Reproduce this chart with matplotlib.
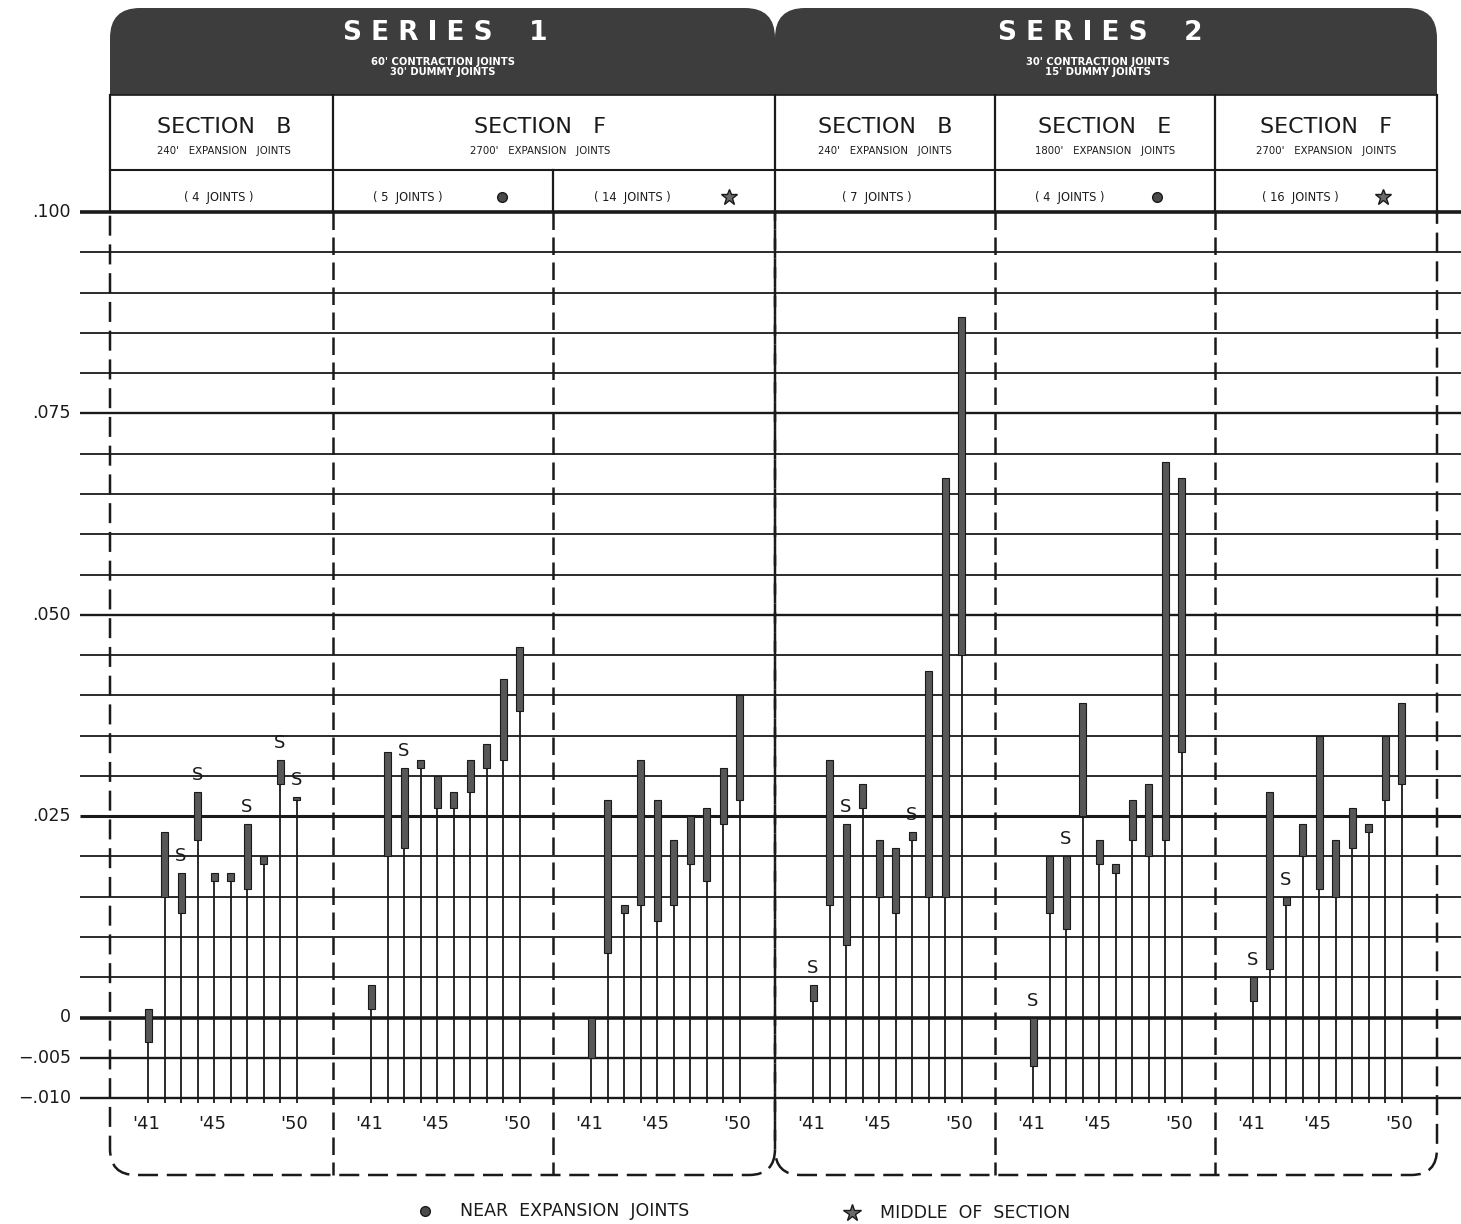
import matplotlib
matplotlib.use("Agg")
import matplotlib.pyplot as plt
from matplotlib.patches import FancyBboxPatch, Rectangle
from matplotlib.transforms import Affine2D
import numpy as np

# ---------------- data ----------------
years = [1941, 1942, 1943, 1944, 1945, 1946, 1947, 1948, 1949, 1950]
year_labels = {1941: "'41", 1945: "'45", 1950: "'50"}

s1b_high = [0.001, 0.023, 0.018, 0.028, 0.018, 0.018, 0.024, 0.020, 0.032, 0.0274]
s1b_low = [-0.003, 0.015, 0.013, 0.022, 0.017, 0.017, 0.016, 0.019, 0.029, 0.0270]
s1b_s = [1943, 1944, 1947, 1949, 1950]

s1f5_high = [0.004, 0.033, 0.031, 0.032, 0.030, 0.028, 0.032, 0.034, 0.042, 0.046]
s1f5_low = [0.001, 0.020, 0.021, 0.031, 0.026, 0.026, 0.028, 0.031, 0.032, 0.038]
s1f5_s = [1943]

s1f14_high = [0.000, 0.027, 0.014, 0.032, 0.027, 0.022, 0.025, 0.026, 0.031, 0.040]
s1f14_low = [-0.005, 0.008, 0.013, 0.014, 0.012, 0.014, 0.019, 0.017, 0.024, 0.027]
s1f14_s = []

s2b_high = [0.004, 0.032, 0.024, 0.029, 0.022, 0.021, 0.023, 0.043, 0.067, 0.087]
s2b_low = [0.002, 0.014, 0.009, 0.026, 0.015, 0.013, 0.022, 0.015, 0.015, 0.045]
s2b_s = [1941, 1943, 1947]

s2e_high = [0.000, 0.020, 0.020, 0.039, 0.022, 0.019, 0.027, 0.029, 0.069, 0.067]
s2e_low = [-0.006, 0.013, 0.011, 0.025, 0.019, 0.018, 0.022, 0.020, 0.022, 0.033]
s2e_s = [1941, 1943]

s2f_high = [0.005, 0.028, 0.015, 0.024, 0.035, 0.022, 0.026, 0.024, 0.035, 0.039]
s2f_low = [0.002, 0.006, 0.014, 0.020, 0.016, 0.015, 0.021, 0.023, 0.027, 0.029]
s2f_s = [1941, 1943]

panels = [
    (s1b_low, s1b_high, s1b_s),
    (s1f5_low, s1f5_high, s1f5_s),
    (s1f14_low, s1f14_high, s1f14_s),
    (s2b_low, s2b_high, s2b_s),
    (s2e_low, s2e_high, s2e_s),
    (s2f_low, s2f_high, s2f_s),
]

y_ticks = [0.100, 0.075, 0.050, 0.025, 0.0, -0.005, -0.010]
y_tick_labels = [".100", ".075", ".050", ".025", "0", "\u2212.005", "\u2212.010"]

series_titles = ["S E R I E S    1", "S E R I E S    2"]
series_subs = ["60' CONTRACTION JOINTS\n30' DUMMY JOINTS",
               "30' CONTRACTION JOINTS\n15' DUMMY JOINTS"]
section_titles = ["SECTION   B", "SECTION   F", "SECTION   B", "SECTION   E", "SECTION   F"]
section_subs = ["240'   EXPANSION   JOINTS", "2700'   EXPANSION   JOINTS",
                "240'   EXPANSION   JOINTS", "1800'   EXPANSION   JOINTS",
                "2700'   EXPANSION   JOINTS"]
joint_labels = ["( 4  JOINTS )", "( 5  JOINTS )", "( 14  JOINTS )", "( 7  JOINTS )",
                "( 4  JOINTS )", "( 16  JOINTS )"]
joint_marks = [None, "dot", "star", None, "dot", "star"]
legend_labels = ["NEAR  EXPANSION  JOINTS", "MIDDLE  OF  SECTION"]

# ---------------- layout ----------------
W, H = 1461, 1224
PX_PER_UNIT = 8054.5
Y_ZERO_PX = 1017.5

fig = plt.figure(figsize=(W / 100, H / 100), dpi=100)
ax = fig.add_axes([0, 0, 1, 1])
ax.set_xlim(0, W)
ax.set_ylim(-(H - Y_ZERO_PX) / PX_PER_UNIT, Y_ZERO_PX / PX_PER_UNIT)
ax.axis("off")
pix = Affine2D().scale(1 / W, -1 / H).translate(0, 1) + fig.transFigure

FONT = "DejaVu Sans"
INK = "#1a1a1a"
BAR = "#575757"
DARK = "#3d3d3d"

panel_left = [110, 333, 553, 775, 995, 1215]
first_off = 38
step = 16.5
DASH = (0, (7, 3))

# series outline boxes (dashed, rounded bottom corners)
for x0, x1 in [(110, 775), (775, 1437)]:
    ax.add_patch(FancyBboxPatch((x0, 140), x1 - x0, 1175 - 140,
                                boxstyle="round,pad=0,rounding_size=26",
                                fill=False, ec=INK, lw=1.8, ls=(0, (8, 3.5)),
                                transform=pix, zorder=1, clip_on=False))
    ax.add_patch(FancyBboxPatch((x0, 8), x1 - x0, 120,
                                boxstyle="round,pad=0,rounding_size=30",
                                fc=DARK, ec="none", transform=pix, zorder=3,
                                clip_on=False))

# white header rows
ax.add_patch(Rectangle((100, 95), 1345, 115, fc="white", ec="none",
                       transform=pix, zorder=4, clip_on=False))
ax.plot([110, 1437], [95, 95], color=INK, lw=1.2, transform=pix, zorder=5)
ax.plot([110, 1437], [170, 170], color=INK, lw=1.5, transform=pix, zorder=5)
for x in [110, 333, 775, 995, 1215, 1437]:
    ax.plot([x, x], [95, 212], color=INK, lw=1.6, transform=pix, zorder=5)
ax.plot([553, 553], [170, 212], color=INK, lw=1.6, transform=pix, zorder=5)

# dashed vertical separators in plot area
for x in [333, 553, 995, 1215]:
    ax.plot([x, x], [212, 1175], color=INK, lw=1.8, ls=DASH, transform=pix, zorder=3)

# series titles
for cx, t, s in zip([445, 1100], series_titles, series_subs):
    ax.text(cx, 33, t, transform=pix, ha="center", va="center", color="white",
            fontsize=19, fontweight="bold", family=FONT, zorder=6)
    ax.text(cx - 2, 67, s, transform=pix, ha="center", va="center", color="white",
            fontsize=7.2, fontweight="bold", family=FONT, zorder=6, linespacing=1.0)

# section titles
for cx, t, s in zip([224, 540, 885, 1105, 1326], section_titles, section_subs):
    ax.text(cx, 127, t, transform=pix, ha="center", va="center", color=INK,
            fontsize=16, family=FONT, zorder=6)
    ax.text(cx, 151, s, transform=pix, ha="center", va="center", color=INK,
            fontsize=7.3, family=FONT, zorder=6)

# joints row
joint_cx = [219, 408, 632, 877, 1070, 1300]
mark_x = [None, 502, 729, None, 1157, 1383]
for cx, lab, mk, mx in zip(joint_cx, joint_labels, joint_marks, mark_x):
    ax.text(cx, 197, lab, transform=pix, ha="center", va="center", color=INK,
            fontsize=8.3, family=FONT, zorder=6)
    if mk == "dot":
        ax.plot([mx], [197], marker="o", ms=7, color="#4a4a4a", mec=INK,
                transform=pix, zorder=6)
    elif mk == "star":
        ax.plot([mx], [197], marker="*", ms=12, color="#6a6a6a", mec=INK,
                transform=pix, zorder=6)

# horizontal grid lines
grid_vals = np.round(np.arange(-0.010, 0.1001, 0.005), 3)
for v in grid_vals:
    labeled = any(abs(v - t) < 1e-9 for t in y_ticks)
    if abs(v) < 1e-9 or abs(v - 0.1) < 1e-9:
        lw = 2.6
    elif abs(v - 0.025) < 1e-9:
        lw = 2.2
    elif labeled:
        lw = 1.7
    else:
        lw = 1.3
    ax.hlines(v, 80, W, color=INK, lw=lw, zorder=2)

for v, lab in zip(y_ticks, y_tick_labels):
    ax.text(71, v, lab, ha="right", va="center", fontsize=12.5, color=INK,
            family=FONT, zorder=6)

# bars
stem_bottom = -0.0106
for (low, high, s_years), x0 in zip(panels, panel_left):
    xs = [x0 + first_off + i * step for i in range(len(years))]
    ax.vlines(xs, stem_bottom, low, color=INK, lw=1.3, zorder=4)
    hts = [max(h - l, 0.0004) for l, h in zip(low, high)]
    ax.bar(xs, hts, bottom=low, width=7, color=BAR, edgecolor=INK, lw=0.8,
           zorder=5)
    for yr, x, h in zip(years, xs, high):
        if yr in s_years:
            ax.text(x, h + 0.0021, "S", ha="center", va="center", fontsize=13,
                    color=INK, family=FONT, zorder=6)
        if yr in year_labels:
            ax.text(x - 2, 1124, year_labels[yr], transform=pix, ha="center",
                    va="center", fontsize=13, color=INK, family=FONT, zorder=6)

# legend
ax.plot([425], [1211], marker="o", ms=7, color="#4a4a4a", mec=INK,
        transform=pix, zorder=6)
ax.text(460, 1211, legend_labels[0], transform=pix, ha="left", va="center",
        fontsize=12.5, color=INK, family=FONT)
ax.plot([852], [1213], marker="*", ms=13, color="#6a6a6a", mec=INK,
        transform=pix, zorder=6)
ax.text(880, 1213, legend_labels[1], transform=pix, ha="left", va="center",
        fontsize=12.5, color=INK, family=FONT)

fig.savefig("out.png", dpi=100, facecolor="white")
